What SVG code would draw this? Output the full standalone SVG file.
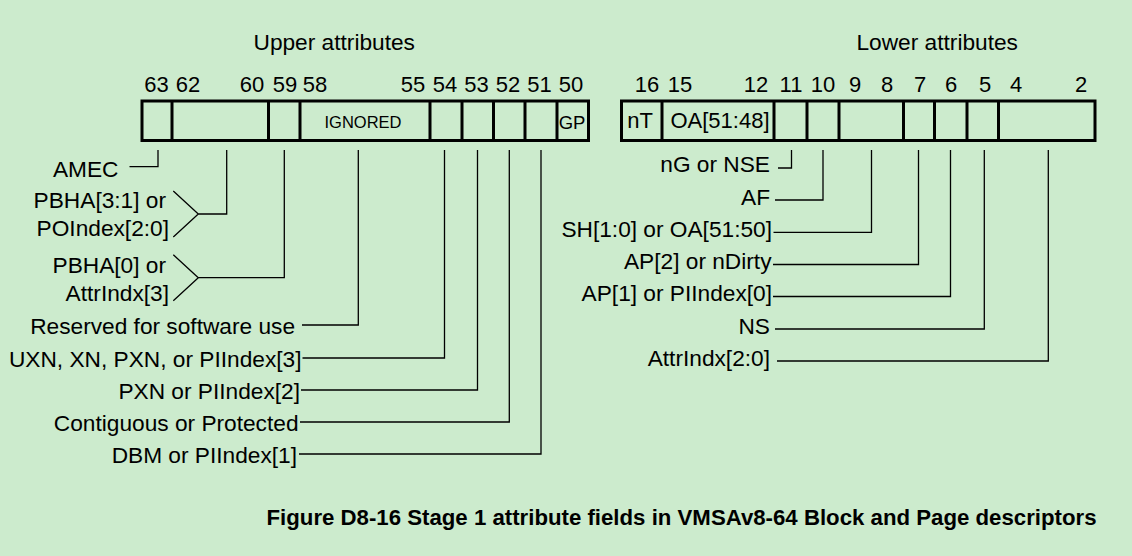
<svg xmlns="http://www.w3.org/2000/svg" width="1132" height="556" viewBox="0 0 1132 556">
<style>
text{font-family:"Liberation Sans",Arial,sans-serif;fill:#000}
.t{font-size:22.7px}
.b{font-size:22px;text-anchor:middle}
.e{text-anchor:end}
.m{text-anchor:middle}
.box{fill:none;stroke:#000;stroke-width:3}
.div{stroke:#000;stroke-width:3}
.ld{fill:none;stroke:#000;stroke-width:1.3}
.cap{font-size:22.3px;font-weight:bold}
</style>
<rect width="1132" height="556" fill="#CCEBCD"/>
<g id="titles">
<text class="t" x="253.5" y="50">Upper attributes</text>
<text class="t" x="856.5" y="50">Lower attributes</text>
</g>
<g id="upper-register">
<text class="b" x="156.5" y="92">63</text>
<text class="b" x="188" y="92">62</text>
<text class="b" x="252" y="92">60</text>
<text class="b" x="285" y="92">59</text>
<text class="b" x="315" y="92">58</text>
<text class="b" x="413" y="92">55</text>
<text class="b" x="445" y="92">54</text>
<text class="b" x="476.5" y="92">53</text>
<text class="b" x="508" y="92">52</text>
<text class="b" x="539.5" y="92">51</text>
<text class="b" x="571" y="92">50</text>
<rect class="box" x="142" y="101" width="446.5" height="39.5"/>
<path class="div" d="M172 101V140.5M268.5 101V140.5M300 101V140.5M430 101V140.5M462 101V140.5M493.5 101V140.5M525 101V140.5M557 101V140.5"/>
<text class="m" x="363" y="128" style="font-size:16.5px">IGNORED</text>
<text class="m" x="572" y="129" style="font-size:18.5px">GP</text>
</g>
<g id="lower-register">
<text class="b" x="647" y="92">16</text>
<text class="b" x="680" y="92">15</text>
<text class="b" x="756" y="92">12</text>
<text class="b" x="791" y="92">11</text>
<text class="b" x="823" y="92">10</text>
<text class="b" x="855" y="92">9</text>
<text class="b" x="887" y="92">8</text>
<text class="b" x="920" y="92">7</text>
<text class="b" x="951" y="92">6</text>
<text class="b" x="985" y="92">5</text>
<text class="b" x="1016" y="92">4</text>
<text class="b" x="1081" y="92">2</text>
<rect class="box" x="621.5" y="101" width="473.5" height="39.5"/>
<path class="div" d="M662 101V140.5M774 101V140.5M807 101V140.5M839 101V140.5M903.5 101V140.5M934.5 101V140.5M967 101V140.5M998.5 101V140.5"/>
<text class="m" x="640" y="128" style="font-size:22px">nT</text>
<text class="m" x="720" y="128" style="font-size:22px">OA[51:48]</text>
</g>
<g id="connectors">
<path class="ld" d="M158 150V166.7H129.5"/>
<path class="ld" d="M226.7 150V214H198.3M173.3 191L198.3 214L173.3 237"/>
<path class="ld" d="M284.3 150V277.7H198.3M173.3 254.7L198.3 277.7L173.3 300.7"/>
<path class="ld" d="M358.3 150V325H302"/>
<path class="ld" d="M444.5 150V358H302.5"/>
<path class="ld" d="M477.5 150V390H301"/>
<path class="ld" d="M509.3 150V422H300"/>
<path class="ld" d="M541 150V454H299"/>
<path class="ld" d="M791.5 150V168H778"/>
<path class="ld" d="M823 150V200H775"/>
<path class="ld" d="M871.5 150V232.3H773.5"/>
<path class="ld" d="M918.5 150V264.5H773"/>
<path class="ld" d="M950.5 150V296.5H773"/>
<path class="ld" d="M984.3 150V329H775"/>
<path class="ld" d="M1048.3 150V361H777"/>
</g>
<g id="label-amec"><text class="t e" x="118.5" y="177">AMEC</text></g>
<g id="label-pbha31"><text class="t e" x="166" y="208">PBHA[3:1] or</text><text class="t e" x="169" y="236">POIndex[2:0]</text></g>
<g id="label-pbha0"><text class="t e" x="166" y="272.5">PBHA[0] or</text><text class="t e" x="169" y="301">AttrIndx[3]</text></g>
<g id="label-reserved"><text class="t e" x="295" y="333.5">Reserved for software use</text></g>
<g id="label-uxn"><text class="t e" x="301.5" y="366.5">UXN, XN, PXN, or PIIndex[3]</text></g>
<g id="label-pxn"><text class="t e" x="300" y="398.5">PXN or PIIndex[2]</text></g>
<g id="label-contig"><text class="t e" x="298.5" y="430.5">Contiguous or Protected</text></g>
<g id="label-dbm"><text class="t e" x="297" y="462.5">DBM or PIIndex[1]</text></g>
<g id="label-ng"><text class="t e" x="770" y="172">nG or NSE</text></g>
<g id="label-af"><text class="t e" x="770" y="205">AF</text></g>
<g id="label-sh"><text class="t e" x="772" y="237">SH[1:0] or OA[51:50]</text></g>
<g id="label-ap2"><text class="t e" x="771.5" y="269">AP[2] or nDirty</text></g>
<g id="label-ap1"><text class="t e" x="772" y="301">AP[1] or PIIndex[0]</text></g>
<g id="label-ns"><text class="t e" x="770" y="334">NS</text></g>
<g id="label-attrindx"><text class="t e" x="770" y="366">AttrIndx[2:0]</text></g>
<g id="caption"><text class="cap" x="266.5" y="525" textLength="830" lengthAdjust="spacingAndGlyphs">Figure D8-16 Stage 1 attribute fields in VMSAv8-64 Block and Page descriptors</text></g>
</svg>
